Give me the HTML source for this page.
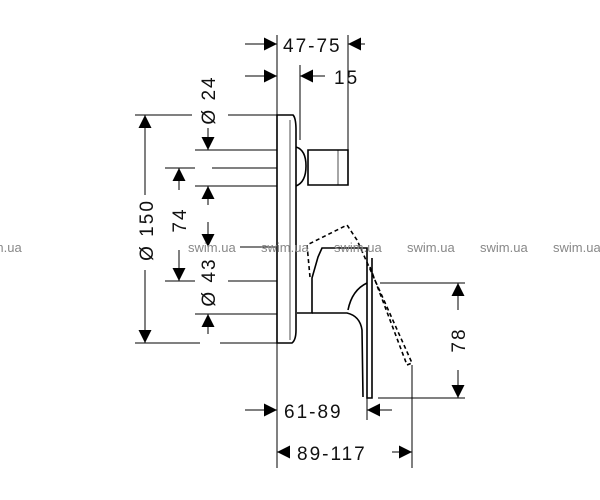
<!DOCTYPE html>
<html><head><meta charset="utf-8"><style>
body{margin:0;background:#fff}
svg{display:block}
text{font-family:"Liberation Sans",sans-serif}
.d{font-size:19px;letter-spacing:2px;fill:#111}
.w{font-size:13px;fill:#888}
</style></head><body>
<svg width="600" height="500" viewBox="0 0 600 500" xmlns="http://www.w3.org/2000/svg">
<defs>
<marker id="a" viewBox="0 0 10 10" refX="10" refY="5" markerWidth="13" markerHeight="13" markerUnits="userSpaceOnUse" orient="auto"><path d="M0,0 L10,5 L0,10z" fill="#000"/></marker>
</defs>
<g stroke="#000" stroke-width="1" fill="none">
<line x1="277" y1="35" x2="277" y2="115"/>
<line x1="277" y1="343" x2="277" y2="468"/>
<line x1="348" y1="35" x2="348" y2="150"/>
<line x1="300" y1="65" x2="300" y2="140"/>
<line x1="367" y1="398" x2="367" y2="420"/>
<line x1="412" y1="365" x2="412" y2="468"/>
<line x1="135" y1="115" x2="192" y2="115"/><line x1="228" y1="115" x2="277" y2="115"/>
<line x1="195" y1="150" x2="277" y2="150"/>
<line x1="165" y1="168" x2="195" y2="168"/><line x1="212" y1="168" x2="277" y2="168"/>
<line x1="195" y1="186" x2="277" y2="186"/>
<line x1="240" y1="247" x2="277" y2="247"/>
<line x1="165" y1="281" x2="195" y2="281"/><line x1="228" y1="281" x2="277" y2="281"/>
<line x1="195" y1="314" x2="277" y2="314"/>
<line x1="135" y1="343" x2="200" y2="343"/><line x1="220" y1="343" x2="277" y2="343"/>
<line x1="380" y1="283" x2="465" y2="283"/>
<line x1="378" y1="398" x2="465" y2="398"/>
<line x1="245" y1="44" x2="277" y2="44" marker-end="url(#a)"/>
<line x1="365" y1="44" x2="348" y2="44" marker-end="url(#a)"/>
<line x1="245" y1="76" x2="277" y2="76" marker-end="url(#a)"/>
<line x1="325" y1="76" x2="300" y2="76" marker-end="url(#a)"/>
<line x1="208" y1="128" x2="208" y2="150" marker-end="url(#a)"/>
<line x1="208" y1="205" x2="208" y2="186" marker-end="url(#a)"/>
<line x1="208" y1="222" x2="208" y2="247" marker-end="url(#a)"/>
<line x1="208" y1="334" x2="208" y2="314" marker-end="url(#a)"/>
<line x1="145" y1="195" x2="145" y2="115" marker-end="url(#a)"/>
<line x1="145" y1="270" x2="145" y2="343" marker-end="url(#a)"/>
<line x1="179" y1="190" x2="179" y2="168" marker-end="url(#a)"/>
<line x1="179" y1="250" x2="179" y2="281" marker-end="url(#a)"/>
<line x1="458" y1="310" x2="458" y2="283" marker-end="url(#a)"/>
<line x1="458" y1="370" x2="458" y2="398" marker-end="url(#a)"/>
<line x1="245" y1="410" x2="277" y2="410" marker-end="url(#a)"/>
<line x1="392" y1="410" x2="367" y2="410" marker-end="url(#a)"/>
<line x1="290" y1="452" x2="277" y2="452" marker-end="url(#a)"/>
<line x1="392" y1="452" x2="412" y2="452" marker-end="url(#a)"/>
</g>
<g stroke="#000" stroke-width="1.6" fill="none">
<path d="M277,115 L293,115 Q296,118 296,130 L296,330 Q296,340 292,343 L277,343 Z"/>
<line x1="290" y1="120" x2="290" y2="340" stroke-width="0.7"/>
<path d="M296,147 Q306,150 306,166 Q306,182 296,186"/>
<path d="M308,150 L348,150 L348,185 L308,185 Z"/>
<line x1="338" y1="150" x2="338" y2="185" stroke-width="0.7"/>
<path d="M297,313 L312,313 L312,278 L318,257 L322,248 L367,248 L367,398 L372,398 L372,258"/>
<path d="M312,313 L347,313 Q360,316 362,330 L363,397"/>
<path d="M367,283 Q352,290 348,310"/>
<path d="M310,277 L307,245 L347,225 L357,240 L412,363 L407,365 L370,267" stroke-dasharray="4,3"/>
</g>
<text class="d" x="283" y="52">47-75</text>
<text class="d" x="334" y="84">15</text>
<text class="d" x="284" y="418">61-89</text>
<text class="d" x="297" y="460">89-117</text>
<text class="d" transform="translate(215,100) rotate(-90)" text-anchor="middle">Ø 24</text>
<text class="d" transform="translate(153,230) rotate(-90)" text-anchor="middle">Ø 150</text>
<text class="d" transform="translate(186,220) rotate(-90)" text-anchor="middle">74</text>
<text class="d" transform="translate(215,282) rotate(-90)" text-anchor="middle">Ø 43</text>
<text class="d" transform="translate(465,340) rotate(-90)" text-anchor="middle">78</text>
<text class="w" x="-26" y="252">swim.ua</text>
<text class="w" x="188" y="252">swim.ua</text>
<text class="w" x="261" y="252">swim.ua</text>
<text class="w" x="334" y="252">swim.ua</text>
<text class="w" x="407" y="252">swim.ua</text>
<text class="w" x="480" y="252">swim.ua</text>
<text class="w" x="553" y="252">swim.ua</text>
</svg>
</body></html>
